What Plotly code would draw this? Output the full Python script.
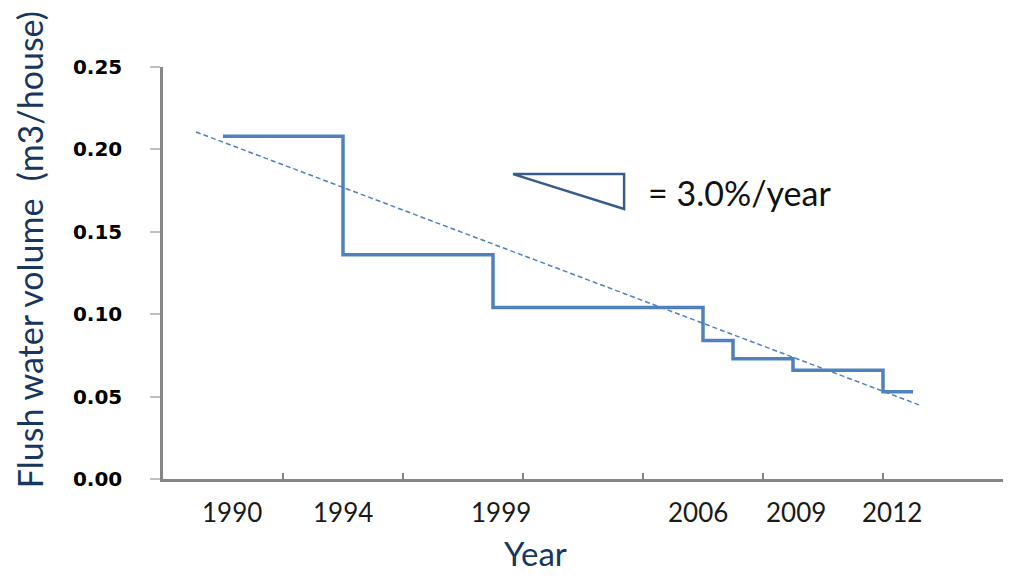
import plotly.graph_objects as go

# step series: flush water volume per house
step_years = [1990, 1994, 1999, 2006, 2007, 2009, 2012, 2013]
step_values = [0.208, 0.136, 0.104, 0.084, 0.073, 0.066, 0.053, 0.053]

# linear trend (dashed)
trend_years = [1989.1, 2013.2]
trend_values = [0.2106, 0.045]

# year labels under the axis
year_labels = ["1990", "1994", "1999", "2006", "2009", "2012"]
label_years = [1990, 1994, 1999, 2006, 2009, 2012]
label_shift = [9, 0, 8, -5, 3, 9]

y_ticks = [0.0, 0.05, 0.10, 0.15, 0.20, 0.25]

line_blue = "#4F81BD"
navy = "#17375E"
axis_grey = "#868686"

fig = go.Figure()

fig.add_trace(
    go.Scatter(
        x=trend_years,
        y=trend_values,
        mode="lines",
        line=dict(color=line_blue, width=1.5, dash="5px,3px"),
        hoverinfo="skip",
    )
)

fig.add_trace(
    go.Scatter(
        x=step_years,
        y=step_values,
        mode="lines",
        line=dict(color=line_blue, width=3.5, shape="hv"),
        hovertemplate="%{x}: %{y}<extra></extra>",
    )
)

# slope triangle next to the rate text
fig.add_shape(
    type="path",
    path="M 1999.67 0.185 L 2003.37 0.185 L 2003.37 0.1638 Z",
    xref="x",
    yref="y",
    line=dict(color="#385D8A", width=2.5),
    fillcolor="rgba(0,0,0,0)",
)
fig.add_annotation(
    x=2004.1,
    y=0.1741,
    xref="x",
    yref="y",
    text="= 3.0%/year",
    showarrow=False,
    xanchor="left",
    yanchor="middle",
    font=dict(family="Lato", size=34, color="#111111"),
)

for lab, yr, sh in zip(year_labels, label_years, label_shift):
    fig.add_annotation(
        x=yr,
        y=0,
        xref="x",
        yref="paper",
        text=lab,
        showarrow=False,
        xanchor="center",
        yanchor="middle",
        xshift=sh,
        yshift=-33,
        font=dict(family="Lato", size=26, color="#1a1a1a"),
    )

fig.add_annotation(
    x=0.444,
    y=0,
    xref="paper",
    yref="paper",
    text="Year",
    showarrow=False,
    xanchor="center",
    yanchor="middle",
    yshift=-74,
    font=dict(family="Lato", size=33, color=navy),
)
fig.add_annotation(
    x=-0.158,
    y=0.556,
    xref="paper",
    yref="paper",
    text="Flush water volume \u00a0(m3/house)",
    textangle=-90,
    showarrow=False,
    xanchor="center",
    yanchor="middle",
    font=dict(family="Lato", size=34, color=navy),
)

# page body adds 8px on the left/top, so the figure is a bit smaller
fig.update_layout(
    width=1016,
    height=580,
    plot_bgcolor="white",
    paper_bgcolor="white",
    showlegend=False,
    margin=dict(l=155, r=21, t=59, b=109),
)

fig.update_xaxes(
    range=[1988, 2016],
    tick0=1988,
    dtick=4,
    showticklabels=False,
    ticks="inside",
    ticklen=6,
    tickwidth=1.5,
    tickcolor=axis_grey,
    showline=True,
    linecolor=axis_grey,
    linewidth=2.5,
    showgrid=False,
    zeroline=False,
)
fig.update_yaxes(
    range=[0, 0.25],
    tickvals=y_ticks,
    tickformat=".2f",
    ticks="outside",
    ticklen=10,
    tickwidth=1.5,
    tickcolor="#C0C0C0",
    ticklabelstandoff=24,
    tickfont=dict(family="DejaVu Sans", size=20, color="black", weight="bold"),
    showline=True,
    linecolor=axis_grey,
    linewidth=2.5,
    showgrid=False,
    zeroline=False,
)

fig.write_html("out.html")
